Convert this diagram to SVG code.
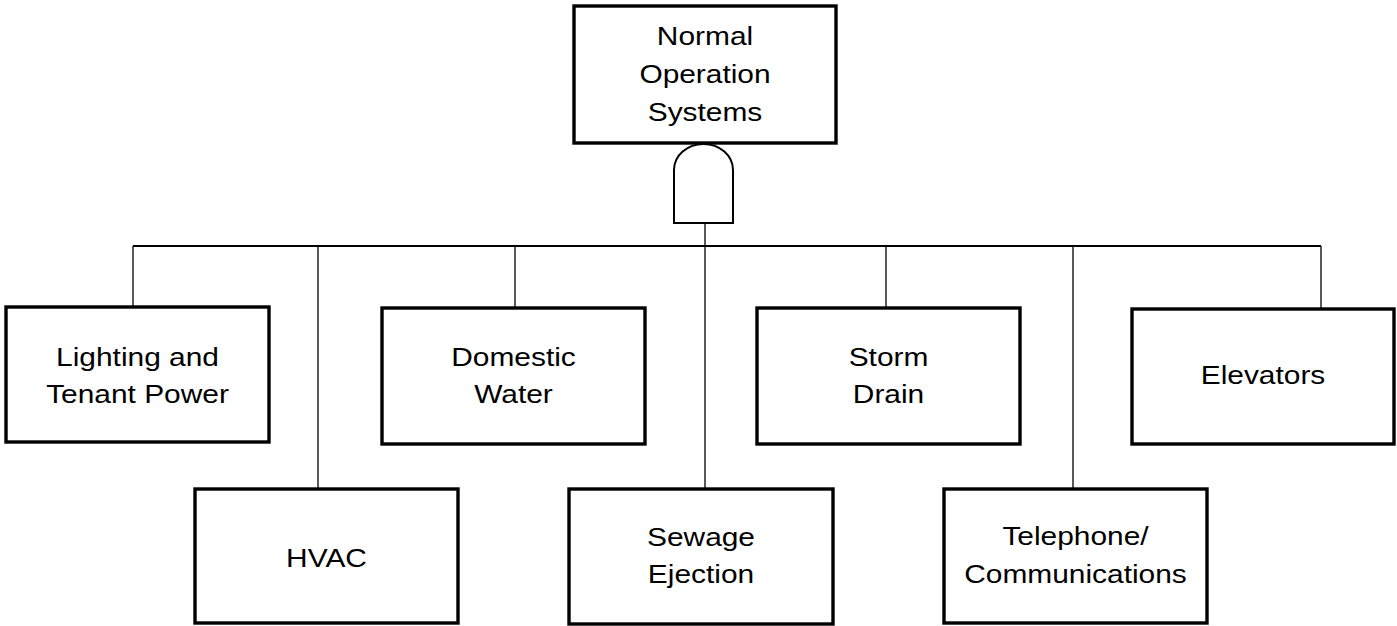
<svg xmlns="http://www.w3.org/2000/svg" width="1397" height="626" viewBox="0 0 1397 626">
<style>
.box{fill:#fff;stroke:#000;stroke-width:3.4}
.gate{fill:#fff;stroke:#000;stroke-width:2}
.ln{fill:none;stroke:#000;stroke-width:1.3}
.bus{fill:none;stroke:#000;stroke-width:2}
text{font-family:"Liberation Sans",Arial,sans-serif;font-size:26px;fill:#000;text-anchor:middle}
</style>
<rect width="1397" height="626" fill="#fff"/>
<g id="connectors">
<line class="bus" x1="133" y1="246" x2="1321" y2="246"/>
<line class="ln" x1="705" y1="223" x2="705" y2="489"/>
<line class="ln" x1="133" y1="246" x2="133" y2="307"/>
<line class="ln" x1="318" y1="246" x2="318" y2="489"/>
<line class="ln" x1="515" y1="246" x2="515" y2="308"/>
<line class="ln" x1="886" y1="246" x2="886" y2="308"/>
<line class="ln" x1="1073" y1="246" x2="1073" y2="489"/>
<line class="ln" x1="1321" y1="246" x2="1321" y2="309"/>
</g>
<g id="top">
<rect class="box" x="574" y="6" width="262" height="137"/>
<text transform="matrix(1.15 0 0 1 705 0)"><tspan x="0" y="45">Normal</tspan><tspan x="0" y="83">Operation</tspan><tspan x="0" y="121">Systems</tspan></text>
</g>
<g id="and-gate">
<path class="gate" d="M674,223 V170 A29.5,26 0 0 1 733,170 V223 Z"/>
</g>
<g id="lighting">
<rect class="box" x="6" y="307" width="263" height="135"/>
<text transform="matrix(1.15 0 0 1 137.5 0)"><tspan x="0" y="366">Lighting and</tspan><tspan x="0" y="403">Tenant Power</tspan></text>
</g>
<g id="hvac">
<rect class="box" x="195" y="489" width="263" height="134"/>
<text transform="matrix(1.15 0 0 1 326.5 0)"><tspan x="0" y="567">HVAC</tspan></text>
</g>
<g id="domestic">
<rect class="box" x="382" y="308" width="263" height="136"/>
<text transform="matrix(1.15 0 0 1 513.5 0)"><tspan x="0" y="366">Domestic</tspan><tspan x="0" y="403">Water</tspan></text>
</g>
<g id="sewage">
<rect class="box" x="569" y="489" width="264" height="135"/>
<text transform="matrix(1.15 0 0 1 701 0)"><tspan x="0" y="546">Sewage</tspan><tspan x="0" y="583">Ejection</tspan></text>
</g>
<g id="storm">
<rect class="box" x="757" y="308" width="263" height="136"/>
<text transform="matrix(1.15 0 0 1 888.5 0)"><tspan x="0" y="366">Storm</tspan><tspan x="0" y="403">Drain</tspan></text>
</g>
<g id="telephone">
<rect class="box" x="944" y="489" width="263" height="134"/>
<text transform="matrix(1.15 0 0 1 1075.5 0)"><tspan x="0" y="545">Telephone/</tspan><tspan x="0" y="583">Communications</tspan></text>
</g>
<g id="elevators">
<rect class="box" x="1132" y="309" width="262" height="135"/>
<text transform="matrix(1.15 0 0 1 1263 0)"><tspan x="0" y="384">Elevators</tspan></text>
</g>
</svg>
